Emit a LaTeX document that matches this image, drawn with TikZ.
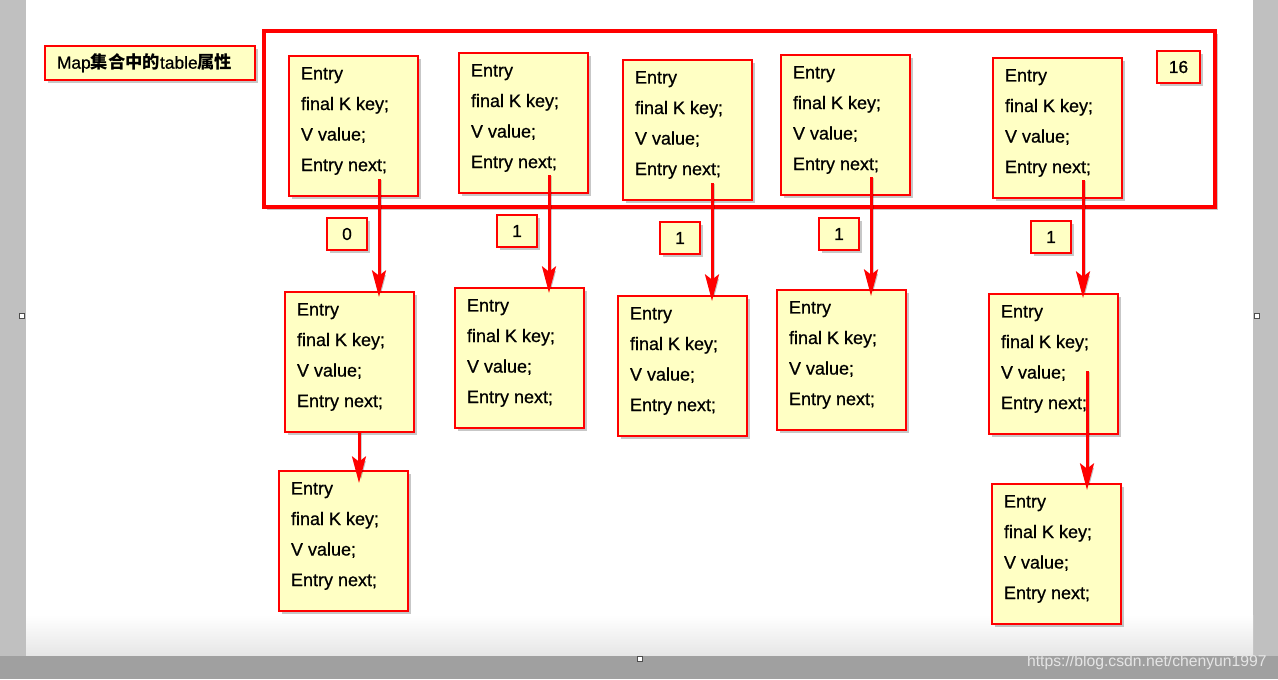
\documentclass[tikz,border=0pt]{standalone}
\usepackage{fontspec}
\setmainfont{Liberation Sans}
\newfontfamily\boxfont{Liberation Sans}[FakeBold=0.7]
\newfontfamily\cjk{Noto Sans CJK SC}
\usetikzlibrary{arrows.meta,shadows}
\definecolor{boxyellow}{HTML}{FFFFC4}
\definecolor{boxred}{HTML}{FF0000}
\definecolor{sidegray}{HTML}{C0C0C0}
\definecolor{bargray}{HTML}{A0A0A0}
\newcommand{\entrytext}{\parbox[c][105pt][t]{96.75pt}{\boxfont\fontsize{13.5pt}{22.9pt}\selectfont\leftskip=9pt\rule{0pt}{17.6pt}Entry\\final K key;\\V value;\\Entry next;}}
\tikzset{
  shadowed/.style={drop shadow={shadow xshift=2pt,shadow yshift=-2pt,opacity=0.22,fill=black}},
  redbox/.style={draw=boxred, line width=2pt, fill=boxyellow, shadowed, outer sep=0pt, anchor=north west},
  entrybox/.style={redbox, inner sep=0pt},
  idxbox/.style={redbox, inner sep=0pt, minimum width=30pt, minimum height=24pt, font=\boxfont\fontsize{13pt}{15pt}\selectfont},
  labelbox/.style={redbox, inner xsep=9pt, inner ysep=0pt, minimum width=157.5pt, minimum height=25.5pt, text width=139.5pt, align=left, font=\boxfont\fontsize{13pt}{15pt}\selectfont},
  framebox/.style={draw=boxred, line width=2.6pt, fill=white, shadowed, outer sep=0pt, anchor=north west, inner sep=0pt, minimum width=713.25pt, minimum height=132pt},
  nextarrow/.style={draw=boxred, line width=2.25pt, -{Stealth[length=20pt,width=10.5pt,inset=4pt]},
    preaction={draw=black, opacity=0.18, transform canvas={xshift=1.5pt,yshift=-1pt}}},
  handle/.style={draw=black!70, line width=0.8pt, fill=white, inner sep=0pt, minimum size=4pt, outer sep=0pt},
}
\begin{document}
\begin{tikzpicture}[x=0.75pt,y=-0.75pt]
\useasboundingbox (0,0) rectangle (1278,679);
% screen background
\fill[sidegray] (0,0) rectangle (1278,679);
\fill[white] (26,0) rectangle (1253,616);
\shade[top color=white, bottom color=black!10] (26,615) rectangle (1253,656);
\fill[bargray] (0,656) rectangle (1278,679);
\node[handle] (h1) at (22,316) {};
\node[handle] (h2) at (1257,316) {};
\node[handle] (h3) at (640,659) {};
% title label
\node[labelbox] (lbl) at (45,46) {Map{\cjk\bfseries 集合中的}table{\cjk\bfseries 属性}};
% table frame
\node[framebox] (tbl) at (264,31) {};
% top row entries
\node[entrybox] (t1) at (289,56) {\entrytext};
\node[entrybox] (t2) at (459,53) {\entrytext};
\node[entrybox] (t3) at (623,60) {\entrytext};
\node[entrybox] (t4) at (781,55) {\entrytext};
\node[entrybox] (t5) at (993,58) {\entrytext};
\node[idxbox, minimum width=32.25pt] (i16) at (1157,51) {16};
% index boxes
\node[idxbox] (i0) at (327,218) {0};
\node[idxbox] (i1) at (497,215) {1};
\node[idxbox] (i2) at (660,222) {1};
\node[idxbox] (i3) at (819,218) {1};
\node[idxbox] (i4) at (1031,221) {1};
% second row
\node[entrybox] (b1) at (285,292) {\entrytext};
\node[entrybox] (b2) at (455,288) {\entrytext};
\node[entrybox] (b3) at (618,296) {\entrytext};
\node[entrybox] (b4) at (777,290) {\entrytext};
\node[entrybox] (b5) at (989,294) {\entrytext};
% third row
\node[entrybox] (c1) at (279,471) {\entrytext};
\node[entrybox] (c2) at (992,484) {\entrytext};
% next pointers
\draw[nextarrow] ([shift={(90,123)}]t1.north west) -- ([shift={(94,5)}]b1.north west);
\draw[nextarrow] ([shift={(90,122)}]t2.north west) -- ([shift={(94,5)}]b2.north west);
\draw[nextarrow] ([shift={(89,123)}]t3.north west) -- ([shift={(94,5)}]b3.north west);
\draw[nextarrow] ([shift={(90,122)}]t4.north west) -- ([shift={(94,6)}]b4.north west);
\draw[nextarrow] ([shift={(90,122)}]t5.north west) -- ([shift={(94,4)}]b5.north west);
\draw[nextarrow] ([shift={(74,140)}]b1.north west) -- ([shift={(80,12)}]c1.north west);
\draw[nextarrow] ([shift={(98,77)}]b5.north west) -- ([shift={(95,6)}]c2.north west);
% watermark
\node[anchor=base east, inner sep=0pt, text=white!90!black, font=\fontsize{11.8pt}{13pt}\selectfont] (wm) at (1267,666) {https://blog.csdn.net/chenyun1997};
\end{tikzpicture}
\end{document}
